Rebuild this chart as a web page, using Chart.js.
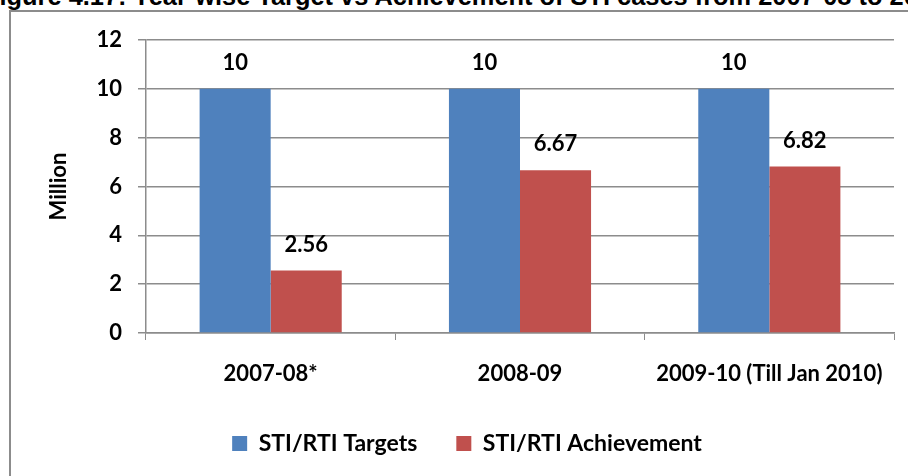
<!DOCTYPE html>
<html>
<head>
<meta charset="utf-8">
<script src="https://cdn.jsdelivr.net/npm/chart.js@4"></script>
<style>
  html, body { margin: 0; padding: 0; background: #fff; overflow: hidden; }
  #wrap { position: relative; width: 908px; height: 476px; overflow: hidden; }
  #frame { position: absolute; left: 9px; top: 10px; width: 1000px; height: 1000px;
           border: 2px solid #8c8c8c; box-sizing: border-box; }
  #title { position: absolute; left: -16px; top: -18px; white-space: nowrap;
           font: bold 25.4px "Liberation Sans", Arial, sans-serif; color: #000; }
  #box { position: absolute; left: 0; top: 0; width: 908px; height: 465px; }
</style>
</head>
<body>
<div id="wrap">
  <div id="title">Figure 4.17: Year-wise Target vs Achievement of STI cases from 2007-08 to 2009-10</div>
  <div id="frame"></div>
  <div id="box"><canvas id="c"></canvas></div>
</div>
<script>
// ── Datos ──
var categorias = ['2007-08*', '2008-09', '2009-10 (Till Jan 2010)'];
var metas = [10, 10, 10];
var logros = [2.56, 6.67, 6.82];
var ticksY = [0, 2, 4, 6, 8, 10, 12];

var FONT = 'Lato, "Open Sans", sans-serif';
var GRID = '#8c8c8c';

// Etiquetas de valor sobre cada barra
var etiquetas = {
  id: 'etiquetas',
  afterDatasetsDraw: function (chart) {
    var ctx = chart.ctx;
    ctx.save();
    ctx.font = 'bold 22px ' + FONT;
    ctx.fillStyle = '#000';
    ctx.textAlign = 'center';
    ctx.textBaseline = 'middle';
    chart.data.datasets.forEach(function (ds, i) {
      chart.getDatasetMeta(i).data.forEach(function (bar, j) {
        ctx.fillText(String(ds.data[j]), bar.x, bar.y - 26);
      });
    });
    ctx.restore();
  }
};

new Chart(document.getElementById('c'), {
  type: 'bar',
  data: {
    labels: categorias,
    datasets: [
      { label: 'STI/RTI Targets', data: metas, backgroundColor: '#4f81bd' },
      { label: 'STI/RTI Achievement', data: logros, backgroundColor: '#c0504d' }
    ]
  },
  options: {
    responsive: true, maintainAspectRatio: false, animation: false,
    layout: { padding: { left: 40, right: 14, top: 40, bottom: 0 } },
    datasets: { bar: { categoryPercentage: 0.57, barPercentage: 1 } },
    plugins: {
      tooltip: { enabled: false },
      legend: {
        position: 'bottom',
        labels: { font: { size: 23, weight: 'bold', family: FONT }, color: '#000',
                  boxWidth: 15, boxHeight: 15, padding: 39 }
      }
    },
    scales: {
      x: {
        grid: { display: true, drawOnChartArea: false, color: GRID, tickLength: 7, offset: true },
        border: { color: GRID, width: 1.5 },
        ticks: { font: { size: 22, weight: 'bold', family: FONT }, color: '#000', padding: 21, maxRotation: 0 },
        afterFit: function (s) { s.height = 60; }
      },
      y: {
        min: 0, max: 12,
        afterBuildTicks: function (s) { s.ticks = ticksY.map(function (v) { return { value: v }; }); },
        grid: { color: GRID, lineWidth: 1.5, tickLength: 8 },
        border: { color: GRID, width: 1.5 },
        ticks: { font: { size: 22, weight: 'bold', family: FONT }, color: '#000', padding: 16 },
        title: { display: true, text: 'Million', color: '#000',
                 font: { size: 22, weight: 'bold', family: FONT }, padding: 6 },
        afterFit: function (s) { s.width = 106; }
      }
    }
  },
  plugins: [etiquetas]
});
</script>
</body>
</html>
